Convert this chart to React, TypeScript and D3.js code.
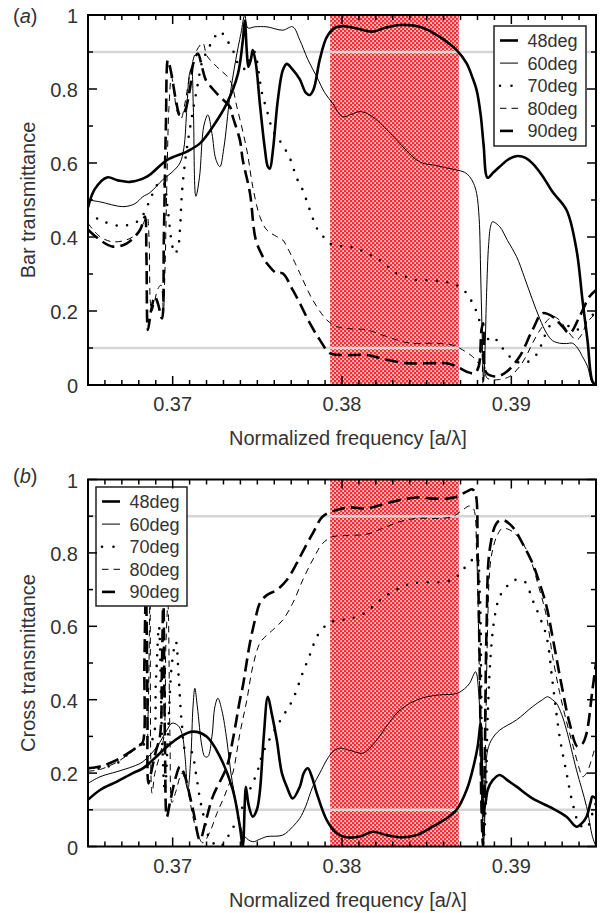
import React from 'react';
import * as d3 from 'd3';

type Pt = [number, number];

// Axis ranges and tick values
const FREQ_DOMAIN: [number, number] = [0.365, 0.395];
const BAND: [number, number] = [0.3793, 0.3869];
const GUIDES = [0.1, 0.9];
const X_MAJOR = [0.37, 0.38, 0.39];
const X_MINOR = d3.range(365, 396).map((v) => v / 1000);
const Y_MAJOR = [0, 0.2, 0.4, 0.6, 0.8, 1];
const Y_MINOR = [0.1, 0.3, 0.5, 0.7, 0.9];
const ANGLES = ['48deg', '60deg', '70deg', '80deg', '90deg'];

// (a) bar transmittance, [frequency, T]
const bar48: Pt[] = [
  [0.365, 0.48], [0.36541, 0.53], [0.36612, 0.561], [0.36677, 0.553], [0.36748, 0.549], [0.36848, 0.563],
  [0.36966, 0.608], [0.37084, 0.631], [0.37161, 0.653], [0.37237, 0.698], [0.3732, 0.761], [0.37385, 0.84],
  [0.37414, 0.93], [0.37426, 0.985], [0.37438, 0.9], [0.37447, 0.86], [0.37462, 0.88], [0.37473, 0.905],
  [0.37491, 0.87], [0.37515, 0.76], [0.37544, 0.64], [0.37562, 0.59], [0.37574, 0.585], [0.37591, 0.63],
  [0.37621, 0.77], [0.3765, 0.85], [0.37674, 0.868], [0.37704, 0.855], [0.37751, 0.826], [0.37786, 0.79],
  [0.3781, 0.784], [0.37833, 0.8], [0.37869, 0.88], [0.3791, 0.94], [0.37957, 0.965], [0.38004, 0.97],
  [0.38075, 0.965], [0.38181, 0.955], [0.38252, 0.965], [0.38341, 0.973], [0.38459, 0.968], [0.38577, 0.941],
  [0.38677, 0.905], [0.38736, 0.869], [0.38771, 0.83], [0.38795, 0.797], [0.38819, 0.73], [0.38836, 0.65],
  [0.3886, 0.56], [0.38895, 0.575], [0.38931, 0.59], [0.3899, 0.612], [0.39037, 0.619], [0.39084, 0.614],
  [0.39125, 0.599], [0.39184, 0.565], [0.39243, 0.522], [0.39326, 0.473], [0.39385, 0.365], [0.3942, 0.23],
  [0.3945, 0.12], [0.39479, 0.01], [0.395, 0.0],
];
const bar60: Pt[] = [
  [0.365, 0.5], [0.36571, 0.495], [0.36706, 0.482], [0.36777, 0.49], [0.36824, 0.509], [0.36866, 0.52],
  [0.36942, 0.555], [0.36996, 0.575], [0.37043, 0.6], [0.37066, 0.64], [0.37084, 0.75], [0.37099, 0.84],
  [0.37111, 0.856], [0.37122, 0.75], [0.37137, 0.51], [0.37158, 0.56], [0.37184, 0.7], [0.37208, 0.73],
  [0.37232, 0.68], [0.37255, 0.61], [0.37279, 0.59], [0.37302, 0.64], [0.37338, 0.78], [0.37373, 0.88],
  [0.37403, 0.95], [0.37426, 1.0], [0.37444, 0.965], [0.37485, 0.968], [0.37556, 0.968], [0.3765, 0.959],
  [0.37709, 0.968], [0.37751, 0.932], [0.37798, 0.88], [0.37851, 0.833], [0.37898, 0.79], [0.37945, 0.761],
  [0.38004, 0.725], [0.38058, 0.732], [0.38105, 0.739], [0.38152, 0.733], [0.38205, 0.716], [0.38264, 0.69],
  [0.38323, 0.662], [0.38382, 0.633], [0.38441, 0.608], [0.38488, 0.598], [0.38535, 0.595], [0.38606, 0.588],
  [0.38677, 0.581], [0.38724, 0.575], [0.38754, 0.563], [0.38777, 0.545], [0.38795, 0.518], [0.3881, 0.45],
  [0.38819, 0.3], [0.38827, 0.15], [0.38836, 0.01], [0.38845, 0.1], [0.38854, 0.25], [0.38866, 0.38],
  [0.38878, 0.43], [0.38889, 0.441], [0.38931, 0.428], [0.38978, 0.39], [0.39031, 0.347], [0.39078, 0.29],
  [0.39125, 0.23], [0.39167, 0.18], [0.39208, 0.14], [0.39243, 0.12], [0.39285, 0.113], [0.39326, 0.112],
  [0.39361, 0.113], [0.39391, 0.1], [0.3942, 0.077], [0.3945, 0.05], [0.39479, 0.005], [0.395, 0.0],
];
const bar70: Pt[] = [
  [0.365, 0.465], [0.36571, 0.446], [0.36689, 0.43], [0.36789, 0.441], [0.36824, 0.459], [0.36866, 0.5],
  [0.36907, 0.54], [0.36942, 0.55], [0.36972, 0.47], [0.36996, 0.38], [0.37013, 0.355], [0.37031, 0.37],
  [0.37043, 0.42], [0.37055, 0.52], [0.37078, 0.62], [0.37108, 0.71], [0.37143, 0.8], [0.37178, 0.88],
  [0.37202, 0.9], [0.37237, 0.932], [0.37279, 0.955], [0.3732, 0.932], [0.37355, 0.905], [0.37397, 0.86],
  [0.37432, 0.855], [0.37462, 0.89], [0.37485, 0.9], [0.37503, 0.86], [0.37527, 0.79], [0.37556, 0.743],
  [0.37591, 0.689], [0.37633, 0.66], [0.37692, 0.613], [0.37733, 0.559], [0.37768, 0.527], [0.3781, 0.473],
  [0.37857, 0.419], [0.37898, 0.397], [0.37945, 0.378], [0.38028, 0.374], [0.38087, 0.369], [0.38146, 0.356],
  [0.38205, 0.342], [0.38264, 0.324], [0.38299, 0.306], [0.38358, 0.297], [0.38417, 0.285], [0.38559, 0.282],
  [0.38677, 0.27], [0.38736, 0.248], [0.38771, 0.221], [0.38801, 0.19], [0.38824, 0.15], [0.38842, 0.11],
  [0.38854, 0.12], [0.38889, 0.131], [0.38931, 0.11], [0.38972, 0.086], [0.39019, 0.066], [0.39066, 0.059],
  [0.39108, 0.065], [0.39155, 0.086], [0.39184, 0.117], [0.39214, 0.15], [0.39243, 0.167], [0.39302, 0.167],
  [0.39344, 0.158], [0.39385, 0.149], [0.3942, 0.16], [0.39462, 0.18], [0.395, 0.2],
];
const bar80: Pt[] = [
  [0.365, 0.437], [0.36571, 0.401], [0.36647, 0.387], [0.36748, 0.396], [0.36807, 0.419], [0.36848, 0.455],
  [0.3686, 0.4], [0.36869, 0.22], [0.36878, 0.2], [0.36895, 0.23], [0.36913, 0.26], [0.36931, 0.27],
  [0.36945, 0.2], [0.36954, 0.3], [0.36966, 0.55], [0.36978, 0.75], [0.36993, 0.833], [0.37007, 0.8],
  [0.37025, 0.74], [0.37049, 0.72], [0.37072, 0.76], [0.37102, 0.84], [0.37137, 0.9], [0.37178, 0.924],
  [0.37202, 0.89], [0.37261, 0.86], [0.37338, 0.824], [0.37379, 0.752], [0.37438, 0.635], [0.37473, 0.536],
  [0.37515, 0.455], [0.37556, 0.419], [0.37615, 0.401], [0.3765, 0.392], [0.37674, 0.374], [0.37733, 0.32],
  [0.37763, 0.29], [0.37827, 0.23], [0.3791, 0.176], [0.37969, 0.158], [0.38046, 0.152], [0.38146, 0.149],
  [0.38264, 0.131], [0.384, 0.113], [0.38535, 0.113], [0.38653, 0.108], [0.38712, 0.095], [0.38771, 0.077],
  [0.38807, 0.06], [0.38824, 0.1], [0.38833, 0.0], [0.38842, 0.05], [0.38854, 0.02], [0.38889, 0.014],
  [0.38931, 0.015], [0.3899, 0.023], [0.39049, 0.05], [0.3909, 0.08], [0.39125, 0.113], [0.39184, 0.158],
  [0.39243, 0.185], [0.39285, 0.175], [0.39326, 0.15], [0.39385, 0.122], [0.3942, 0.14], [0.39444, 0.167],
  [0.395, 0.194],
];
const bar90: Pt[] = [
  [0.365, 0.42], [0.36571, 0.392], [0.36647, 0.374], [0.3673, 0.383], [0.36807, 0.419], [0.36836, 0.455],
  [0.36845, 0.35], [0.36854, 0.149], [0.36872, 0.2], [0.36895, 0.239], [0.36913, 0.22], [0.36937, 0.18],
  [0.36948, 0.4], [0.3696, 0.7], [0.36972, 0.878], [0.36993, 0.84], [0.37019, 0.77], [0.37043, 0.73],
  [0.37066, 0.735], [0.37102, 0.8], [0.37122, 0.87], [0.37149, 0.896], [0.37173, 0.86], [0.37196, 0.824],
  [0.37237, 0.8], [0.37279, 0.779], [0.37338, 0.752], [0.37355, 0.725], [0.37397, 0.662], [0.37414, 0.608],
  [0.37456, 0.52], [0.37491, 0.392], [0.37532, 0.347], [0.37556, 0.329], [0.37615, 0.302], [0.3765, 0.302],
  [0.37709, 0.257], [0.37751, 0.221], [0.3781, 0.167], [0.37869, 0.122], [0.37928, 0.086], [0.38004, 0.081],
  [0.38146, 0.081], [0.38264, 0.068], [0.38382, 0.059], [0.38535, 0.059], [0.38618, 0.059], [0.38677, 0.05],
  [0.38736, 0.036], [0.38783, 0.032], [0.38807, 0.05], [0.38824, 0.15], [0.38833, 0.167], [0.38842, 0.05],
  [0.38854, 0.032], [0.38913, 0.023], [0.38972, 0.036], [0.39049, 0.077], [0.39125, 0.149], [0.39184, 0.194],
  [0.39243, 0.185], [0.39302, 0.158], [0.39344, 0.14], [0.39403, 0.185], [0.39462, 0.239], [0.395, 0.257],
];

// (b) cross transmittance, [frequency, T]
const cross48: Pt[] = [
  [0.365, 0.127], [0.36571, 0.154], [0.36671, 0.177], [0.36765, 0.2], [0.36824, 0.213], [0.36883, 0.236],
  [0.36966, 0.272], [0.37043, 0.299], [0.3712, 0.313], [0.37202, 0.299], [0.37279, 0.245], [0.37355, 0.154],
  [0.37397, 0.054], [0.37414, 0.0], [0.37426, 0.12], [0.37432, 0.163], [0.3745, 0.11], [0.37473, 0.081],
  [0.37497, 0.1], [0.37515, 0.15], [0.37538, 0.3], [0.37562, 0.408], [0.37586, 0.36], [0.37615, 0.29],
  [0.37645, 0.2], [0.37674, 0.163], [0.37709, 0.131], [0.37751, 0.163], [0.37774, 0.2], [0.37798, 0.213],
  [0.37822, 0.19], [0.37851, 0.145], [0.3791, 0.072], [0.37969, 0.036], [0.38028, 0.025], [0.38105, 0.027],
  [0.38181, 0.04], [0.38264, 0.031], [0.38341, 0.025], [0.38441, 0.031], [0.38535, 0.054], [0.38618, 0.077],
  [0.38677, 0.1], [0.38736, 0.154], [0.38771, 0.208], [0.38801, 0.272], [0.38819, 0.336], [0.38827, 0.2],
  [0.38836, 0.1], [0.38848, 0.12], [0.3886, 0.154], [0.38889, 0.18], [0.38931, 0.195], [0.38978, 0.18],
  [0.39031, 0.163], [0.39125, 0.131], [0.39243, 0.104], [0.39326, 0.081], [0.39385, 0.054], [0.3942, 0.065],
  [0.39444, 0.081], [0.39468, 0.12], [0.39479, 0.136], [0.395, 0.13],
];
const cross60: Pt[] = [
  [0.365, 0.172], [0.36571, 0.19], [0.36671, 0.204], [0.36765, 0.218], [0.36824, 0.231], [0.36907, 0.272],
  [0.36966, 0.317], [0.36996, 0.336], [0.37031, 0.33], [0.37055, 0.308], [0.37072, 0.25], [0.3709, 0.154],
  [0.37108, 0.25], [0.3712, 0.38], [0.37131, 0.431], [0.37146, 0.38], [0.37173, 0.272], [0.3719, 0.245],
  [0.37208, 0.245], [0.37232, 0.3], [0.37249, 0.38], [0.37267, 0.404], [0.37291, 0.37], [0.3732, 0.29],
  [0.37344, 0.2], [0.37379, 0.109], [0.37403, 0.05], [0.37426, 0.027], [0.37473, 0.013], [0.37515, 0.02],
  [0.37556, 0.027], [0.3765, 0.031], [0.37709, 0.054], [0.37751, 0.077], [0.37786, 0.11], [0.37827, 0.163],
  [0.37869, 0.2], [0.3791, 0.236], [0.37945, 0.258], [0.37987, 0.268], [0.38046, 0.262], [0.38122, 0.254],
  [0.38164, 0.268], [0.38205, 0.29], [0.38264, 0.328], [0.38323, 0.363], [0.38382, 0.385], [0.38441, 0.399],
  [0.385, 0.408], [0.38577, 0.413], [0.38677, 0.417], [0.38724, 0.43], [0.38754, 0.445], [0.38789, 0.476],
  [0.38807, 0.42], [0.38822, 0.2], [0.38836, 0.01], [0.38848, 0.15], [0.3886, 0.263], [0.38889, 0.295],
  [0.38931, 0.317], [0.39031, 0.345], [0.39125, 0.381], [0.39184, 0.4], [0.39214, 0.408], [0.39243, 0.4],
  [0.39267, 0.39], [0.39297, 0.36], [0.39326, 0.317], [0.39385, 0.208], [0.39444, 0.109], [0.39479, 0.027],
  [0.395, 0.0],
];
const cross70: Pt[] = [
  [0.365, 0.209], [0.36571, 0.213], [0.36671, 0.227], [0.36765, 0.263], [0.36824, 0.277], [0.36878, 0.29],
  [0.36901, 0.45], [0.36919, 0.6], [0.36937, 0.3], [0.36954, 0.15], [0.36972, 0.3], [0.36996, 0.5],
  [0.37019, 0.558], [0.37037, 0.45], [0.37055, 0.33], [0.37078, 0.26], [0.37108, 0.26], [0.37137, 0.2],
  [0.37161, 0.13], [0.3719, 0.07], [0.3722, 0.02], [0.37279, 0.0], [0.37338, 0.036], [0.37379, 0.072],
  [0.37438, 0.136], [0.37497, 0.2], [0.37532, 0.254], [0.37591, 0.308], [0.3765, 0.354], [0.37709, 0.4],
  [0.37763, 0.467], [0.3781, 0.522], [0.37857, 0.576], [0.3791, 0.604], [0.37957, 0.615], [0.38028, 0.619],
  [0.38087, 0.626], [0.38146, 0.64], [0.38193, 0.658], [0.3824, 0.676], [0.38299, 0.694], [0.38358, 0.708],
  [0.38417, 0.717], [0.385, 0.72], [0.38618, 0.722], [0.38677, 0.735], [0.38712, 0.753], [0.38766, 0.78],
  [0.38795, 0.79], [0.38813, 0.7], [0.38824, 0.35], [0.38836, 0.02], [0.38848, 0.1], [0.3886, 0.35],
  [0.38884, 0.558], [0.38907, 0.64], [0.38931, 0.681], [0.38972, 0.708], [0.39019, 0.726], [0.39078, 0.722],
  [0.39125, 0.672], [0.39167, 0.626], [0.39208, 0.572], [0.39243, 0.45], [0.39285, 0.3], [0.39326, 0.2],
  [0.39361, 0.12], [0.39403, 0.06], [0.39444, 0.05], [0.39479, 0.09], [0.395, 0.12],
];
const cross80: Pt[] = [
  [0.365, 0.205], [0.36571, 0.21], [0.36671, 0.23], [0.36765, 0.26], [0.36807, 0.275], [0.36842, 0.28],
  [0.36854, 0.35], [0.36866, 0.68], [0.36878, 0.145], [0.36895, 0.2], [0.36925, 0.25], [0.36948, 0.3],
  [0.3696, 0.55], [0.36972, 0.66], [0.36984, 0.3], [0.36996, 0.12], [0.37019, 0.15], [0.37055, 0.2],
  [0.3709, 0.15], [0.37131, 0.06], [0.37178, 0.01], [0.3722, 0.04], [0.37261, 0.09], [0.37308, 0.14],
  [0.37355, 0.2], [0.37397, 0.308], [0.37438, 0.399], [0.37473, 0.49], [0.37515, 0.554], [0.37556, 0.576],
  [0.37591, 0.59], [0.3765, 0.617], [0.37709, 0.663], [0.37768, 0.726], [0.37827, 0.781], [0.37886, 0.826],
  [0.37945, 0.844], [0.38004, 0.847], [0.38146, 0.851], [0.3824, 0.867], [0.38341, 0.885], [0.38441, 0.894],
  [0.38577, 0.894], [0.38653, 0.899], [0.38712, 0.917], [0.38754, 0.928], [0.38777, 0.92], [0.38795, 0.8],
  [0.3881, 0.5], [0.38822, 0.2], [0.38833, 0.01], [0.38848, 0.3], [0.3886, 0.6], [0.38872, 0.75],
  [0.38889, 0.808], [0.38919, 0.85], [0.38948, 0.867], [0.39007, 0.858], [0.3909, 0.808], [0.39167, 0.699],
  [0.39208, 0.626], [0.39243, 0.52], [0.39285, 0.42], [0.39326, 0.34], [0.39361, 0.28], [0.39403, 0.21],
  [0.3942, 0.19], [0.39444, 0.2], [0.39479, 0.245], [0.395, 0.28],
];
const cross90: Pt[] = [
  [0.365, 0.213], [0.36571, 0.218], [0.36671, 0.236], [0.36765, 0.263], [0.36807, 0.277], [0.36824, 0.285],
  [0.36833, 0.5], [0.36842, 0.7], [0.36851, 0.4], [0.36857, 0.172], [0.36872, 0.2], [0.36901, 0.26],
  [0.36925, 0.3], [0.36937, 0.5], [0.36945, 0.68], [0.36954, 0.3], [0.36966, 0.081], [0.36984, 0.12],
  [0.37019, 0.19], [0.37043, 0.218], [0.37066, 0.2], [0.3712, 0.1], [0.37161, 0.018], [0.37196, 0.07],
  [0.37237, 0.136], [0.3732, 0.218], [0.37355, 0.29], [0.37397, 0.399], [0.37414, 0.436], [0.37456, 0.554],
  [0.37491, 0.626], [0.37515, 0.663], [0.37556, 0.685], [0.37615, 0.699], [0.37674, 0.726], [0.37733, 0.772],
  [0.37763, 0.799], [0.37827, 0.853], [0.37886, 0.899], [0.37969, 0.917], [0.38046, 0.924], [0.38146, 0.921],
  [0.38223, 0.93], [0.38341, 0.944], [0.38441, 0.951], [0.38535, 0.948], [0.38618, 0.948], [0.38677, 0.953],
  [0.38736, 0.967], [0.38771, 0.973], [0.38789, 0.96], [0.38801, 0.8], [0.38813, 0.5], [0.38824, 0.1],
  [0.38833, 0.0], [0.38842, 0.2], [0.38854, 0.6], [0.38872, 0.808], [0.38913, 0.881], [0.38948, 0.89],
  [0.39007, 0.871], [0.39066, 0.826], [0.39125, 0.772], [0.39167, 0.717], [0.39208, 0.654], [0.39243, 0.572],
  [0.39302, 0.427], [0.39344, 0.336], [0.39391, 0.272], [0.3942, 0.28], [0.39444, 0.308], [0.39479, 0.427],
  [0.395, 0.5],
];

const BAR_SERIES = [bar48, bar60, bar70, bar80, bar90];
const CROSS_SERIES = [cross48, cross60, cross70, cross80, cross90];

// Line styles per angle: thick solid, thin solid, dotted, thin dashed, thick dashed
const STYLES = [
  { width: 2.6, dash: undefined as string | undefined, cap: 'butt' },
  { width: 1, dash: undefined, cap: 'butt' },
  { width: 2.6, dash: '0 10.5', cap: 'round' },
  { width: 1, dash: '6.5 5', cap: 'butt' },
  { width: 2.6, dash: '13 6', cap: 'butt' },
];

const FONT = "'Liberation Sans', Arial, Helvetica, sans-serif";
const TEXT = '#333';

type Box = { left: number; right: number; top: number; bottom: number };
type LegendBox = { x: number; y: number; w: number; h: number };

function Panel(props: {
  id: string;
  box: Box;
  series: Pt[][];
  tag: string;
  tagY: number;
  yTitle: string;
  legend: LegendBox;
}) {
  const { id, box, series, tag, tagY, yTitle, legend } = props;
  const x = d3.scaleLinear().domain(FREQ_DOMAIN).range([box.left, box.right]);
  const y = d3.scaleLinear().domain([0, 1]).range([box.bottom, box.top]);
  const line = d3
    .line<Pt>()
    .x((d) => x(d[0]))
    .y((d) => y(d[1]))
    .curve(d3.curveCatmullRom.alpha(0.5));
  const clipId = `clip-${id}`;
  const cx = (box.left + box.right) / 2 + 6;
  const cy = (box.top + box.bottom) / 2;

  return (
    <g>
      <defs>
        <clipPath id={clipId}>
          <rect x={box.left} y={box.top} width={box.right - box.left} height={box.bottom - box.top} />
        </clipPath>
      </defs>
      <rect
        x={x(BAND[0])}
        y={box.top}
        width={x(BAND[1]) - x(BAND[0])}
        height={box.bottom - box.top}
        fill="url(#checker)"
      />
      {GUIDES.map((g) => (
        <line key={g} x1={box.left} x2={box.right} y1={y(g)} y2={y(g)} stroke="#d6d6d6" strokeWidth={2.5} />
      ))}
      <g clipPath={`url(#${clipId})`}>
        {series.map((s, i) => (
          <path
            key={i}
            d={line(s) || ''}
            fill="none"
            stroke="#000"
            strokeWidth={STYLES[i].width}
            strokeDasharray={STYLES[i].dash}
            strokeLinecap={STYLES[i].cap as any}
            strokeLinejoin="round"
          />
        ))}
      </g>
      {/* legend */}
      <g>
        <rect x={legend.x} y={legend.y} width={legend.w} height={legend.h} fill="#fff" stroke="#222" strokeWidth={1.5} />
        {ANGLES.map((name, i) => {
          const ey = legend.y + 14.5 + i * 22.6;
          return (
            <g key={name}>
              <line
                x1={legend.x + 6}
                x2={legend.x + 24}
                y1={ey}
                y2={ey}
                stroke="#000"
                strokeWidth={STYLES[i].width}
                strokeDasharray={i === 2 ? '0 11.5' : STYLES[i].dash}
                strokeLinecap={STYLES[i].cap as any}
              />
              <text x={legend.x + 33.5} y={ey + 6.5} fontFamily={FONT} fontSize={18} fill={TEXT}>
                {name}
              </text>
            </g>
          );
        })}
      </g>
      {/* frame and ticks */}
      <rect
        x={box.left}
        y={box.top}
        width={box.right - box.left}
        height={box.bottom - box.top}
        fill="none"
        stroke="#000"
        strokeWidth={2}
      />
      {X_MINOR.map((t) => {
        const major = X_MAJOR.some((m) => Math.abs(m - t) < 1e-9);
        const len = major ? 9 : 5;
        return (
          <g key={`x${t}`}>
            <line x1={x(t)} x2={x(t)} y1={box.bottom} y2={box.bottom - len} stroke="#000" strokeWidth={1.5} />
            <line x1={x(t)} x2={x(t)} y1={box.top} y2={box.top + len} stroke="#000" strokeWidth={1.5} />
          </g>
        );
      })}
      {[...Y_MAJOR.map((t) => [t, 9]), ...Y_MINOR.map((t) => [t, 5])].map(([t, len]) => (
        <g key={`y${t}`}>
          <line x1={box.left} x2={box.left + len} y1={y(t)} y2={y(t)} stroke="#000" strokeWidth={1.5} />
          <line x1={box.right} x2={box.right - len} y1={y(t)} y2={y(t)} stroke="#000" strokeWidth={1.5} />
        </g>
      ))}
      {/* tick labels */}
      {X_MAJOR.map((t) => (
        <text key={`xl${t}`} x={x(t)} y={box.bottom + 26} textAnchor="middle" fontFamily={FONT} fontSize={20} fill={TEXT}>
          {d3.format('.2f')(t)}
        </text>
      ))}
      {Y_MAJOR.map((t) => (
        <text key={`yl${t}`} x={box.left - 10} y={y(t) + 8} textAnchor="end" fontFamily={FONT} fontSize={20} fill={TEXT}>
          {t === 0 || t === 1 ? String(t) : d3.format('.1f')(t)}
        </text>
      ))}
      {/* titles */}
      <text x={cx} y={box.bottom + 60} textAnchor="middle" fontFamily={FONT} fontSize={20} fill={TEXT}>
        Normalized frequency [a/λ]
      </text>
      <text
        transform={`translate(35, ${cy}) rotate(-90)`}
        textAnchor="middle"
        fontFamily={FONT}
        fontSize={20}
        fill={TEXT}
      >
        {yTitle}
      </text>
      <text x={13} y={tagY} fontFamily={FONT} fontSize={20} fill={TEXT}>
        (<tspan fontStyle="italic">{tag}</tspan>)
      </text>
    </g>
  );
}

export default function App() {
  return (
    <svg
      width={600}
      height={913}
      viewBox="0 0 600 913"
      style={{ position: 'absolute', left: 0, top: 0, background: '#fff' }}
    >
      <defs>
        <pattern id="checker" width={4} height={4} patternUnits="userSpaceOnUse">
          <rect width={4} height={4} fill="#f22e2e" />
          <rect x={0.3} y={0.3} width={1.6} height={1.6} fill="#ffffff" />
          <rect x={2.3} y={2.3} width={1.6} height={1.6} fill="#ffffff" />
        </pattern>
      </defs>
      <rect width={600} height={913} fill="#fff" />
      <Panel
        id="bar"
        box={{ left: 88, right: 596, top: 15, bottom: 385 }}
        series={BAR_SERIES}
        tag="a"
        tagY={22.5}
        yTitle="Bar transmittance"
        legend={{ x: 494, y: 26, w: 92, h: 120 }}
      />
      <Panel
        id="cross"
        box={{ left: 88, right: 596, top: 479.5, bottom: 846.5 }}
        series={CROSS_SERIES}
        tag="b"
        tagY={483}
        yTitle="Cross transmittance"
        legend={{ x: 96, y: 487, w: 91, h: 119 }}
      />
    </svg>
  );
}
